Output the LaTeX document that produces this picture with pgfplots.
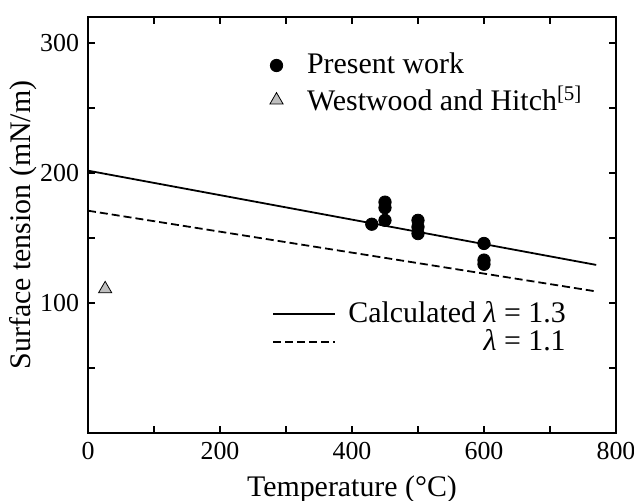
\documentclass[border=0pt]{standalone}
\usepackage{pgfplots}
\pgfplotsset{compat=1.18}
\usepackage{fontspec}
\setmainfont{Liberation Serif}
\begin{document}
\fontsize{13pt}{15pt}\selectfont
\begin{tikzpicture}
\path[use as bounding box] (-44bp,-34bp) rectangle ++(317bp,250.5bp);
\pgfplotsset{
  common/.style={
    at={(0,0)}, anchor=south west,
    scale only axis, width=264bp, height=208bp,
    xmin=0, xmax=800, ymin=0, ymax=320,
    /pgf/number format/assume math mode=true,
  }
}
\begin{axis}[common,
  axis line style={line width=0.9pt},
  xtick={0,200,400,600,800},
  minor xtick={100,300,500,700},
  ytick={100,200,300},
  minor ytick={0,50,150,250},
  tick align=inside,
  major tick length=3.5bp, minor tick length=3.5bp,
  every tick/.style={line width=0.6pt, black},
  xticklabel style={font=\fontsize{13pt}{15pt}\selectfont},
  yticklabel style={font=\fontsize{13pt}{15pt}\selectfont},
  xlabel={Temperature (°C)},
  ylabel={Surface tension (mN/m)},
  xlabel style={yshift=0.5bp},
  ylabel style={yshift=-7bp},
  label style={font=\fontsize{15pt}{17pt}\selectfont},
  legend style={draw=none, fill=none, at={(axis cs:266,298.6)}, anchor=north west,
    font=\fontsize{15pt}{17pt}\selectfont, row sep=0bp},
  legend cell align=left,
  legend image code/.code={\draw[#1] plot coordinates {(0.22cm,0cm)};},
]
\addplot[only marks, mark=*, mark size=3.1bp, black] coordinates {
  (430,160.6) (450,177.6) (450,173.3) (450,163.6)
  (500,163.6) (500,158.5) (500,153.4)
  (600,145.8) (600,133) (600,129.8)
};
\addlegendentry{\hspace{10bp}Present work}
\addplot[only marks, mark=triangle*, mark size=3.8bp, draw=black, fill=gray!50, line width=0.4pt] coordinates {(26,110.8)};
\addlegendentry{\hspace{10bp}Westwood and Hitch\textsuperscript{[5]}}
\end{axis}
\begin{axis}[common, hide axis,
  legend style={draw=none, fill=none, at={(axis cs:270,107.4)}, anchor=north west,
    font=\fontsize{15pt}{17pt}\selectfont, row sep=-2.5bp, column sep=4bp},
  legend cell align=right,
  legend image code/.code={\draw[#1] (0bp,0bp) -- (31bp,0bp);},
]
\addplot[black, line width=0.9pt] coordinates {(0,201.8) (770,129.3)};
\addlegendentry{Calculated \textit{λ} = 1.3}
\addplot[black, line width=0.9pt, dash pattern=on 4bp off 2bp] coordinates {(0,171) (770,108.9)};
\addlegendentry{\textit{λ} = 1.1}
\end{axis}
\end{tikzpicture}
\end{document}
